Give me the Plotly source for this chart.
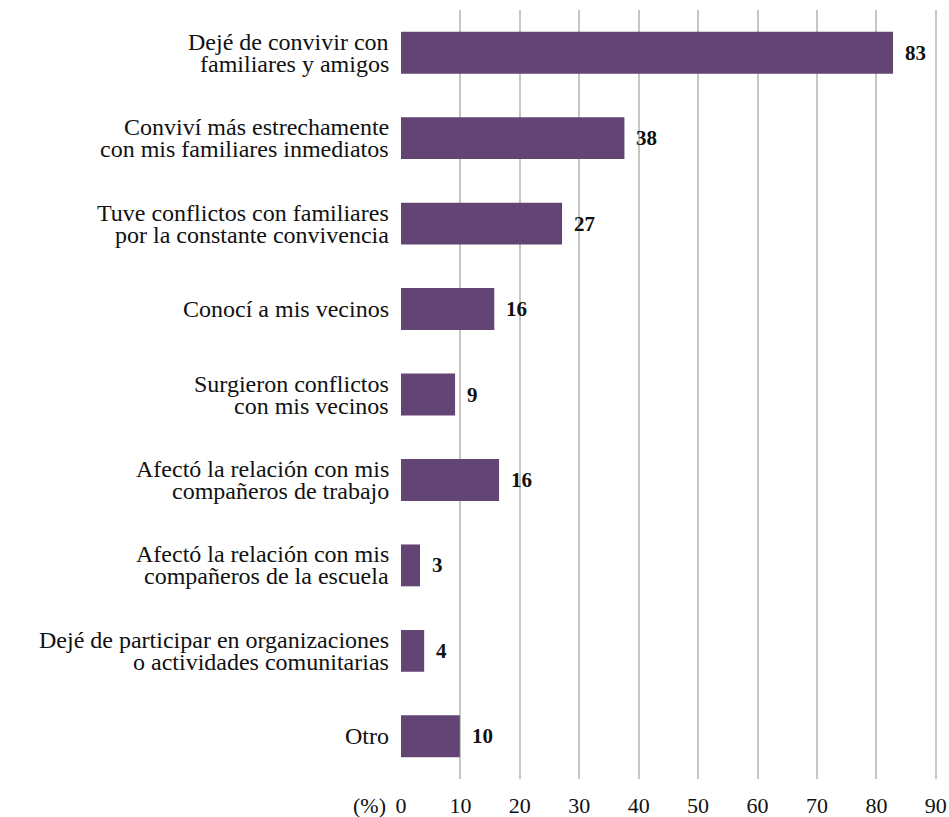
import plotly.graph_objects as go

categories = [
    "Dejé de convivir con<br>familiares y amigos",
    "Conviví más estrechamente<br>con mis familiares inmediatos",
    "Tuve conflictos con familiares<br>por la constante convivencia",
    "Conocí a mis vecinos",
    "Surgieron conflictos<br>con mis vecinos",
    "Afectó la relación con mis<br>compañeros de trabajo",
    "Afectó la relación con mis<br>compañeros de la escuela",
    "Dejé de participar en organizaciones<br>o actividades comunitarias",
    "Otro",
]
values = [82.8, 37.6, 27.1, 15.7, 9.1, 16.5, 3.2, 3.9, 9.9]
labels = ["83", "38", "27", "16", "9", "16", "3", "4", "10"]
tick_vals = [0, 10, 20, 30, 40, 50, 60, 70, 80, 90]

FONT = "Liberation Serif"
BAR = "#634575"
TXT = "#111111"

fig = go.Figure()
fig.add_trace(go.Bar(
    x=values, y=categories, orientation="h",
    marker=dict(color=BAR, line=dict(width=0)),
    width=0.49, hoverinfo="skip",
))

# value labels
for v, c, t in zip(values, categories, labels):
    fig.add_annotation(x=v, y=c, text=f"<b>{t}</b>", showarrow=False,
                       xanchor="left", yanchor="middle", xshift=10,
                       font=dict(family=FONT, size=21, color=TXT))

# category labels (one annotation per line to keep tight line spacing)
for c in categories:
    lines = c.split("<br>")
    n = len(lines)
    for i, line in enumerate(lines):
        shift = (n - 1) / 2 * 22 - i * 22
        fig.add_annotation(x=0, y=c, xref="paper", text=line, showarrow=False,
                           xanchor="right", yanchor="middle", xshift=-11,
                           yshift=shift, borderpad=0,
                           font=dict(family=FONT, size=24, color=TXT))

fig.add_annotation(x=0, y=0, xref="paper", yref="paper", text="(%)",
                   showarrow=False, xanchor="right", yanchor="middle",
                   xshift=-13, yshift=-26,
                   font=dict(family=FONT, size=22, color=TXT))

fig.update_layout(
    width=949, height=817,
    margin=dict(l=401, r=12, t=10, b=38),
    plot_bgcolor="white", paper_bgcolor="white",
    showlegend=False,
    font=dict(family=FONT, size=22, color=TXT),
    xaxis=dict(range=[0, 90.2], tickvals=tick_vals, showgrid=True,
               gridcolor="#c6c6c6", gridwidth=1.5, zeroline=False,
               showline=False, ticks="", tickfont=dict(size=22, color=TXT),
               ticklabelstandoff=11, automargin=False, fixedrange=True),
    yaxis=dict(categoryorder="array", categoryarray=categories[::-1],
               autorange=False, range=[-0.5, 8.5], showticklabels=False,
               showgrid=False, zeroline=False, showline=False, ticks="",
               automargin=False, fixedrange=True),
)

fig.write_html("out.html", config={"displayModeBar": False},
               post_script="document.body.style.margin='0px';document.body.style.overflow='hidden';")
